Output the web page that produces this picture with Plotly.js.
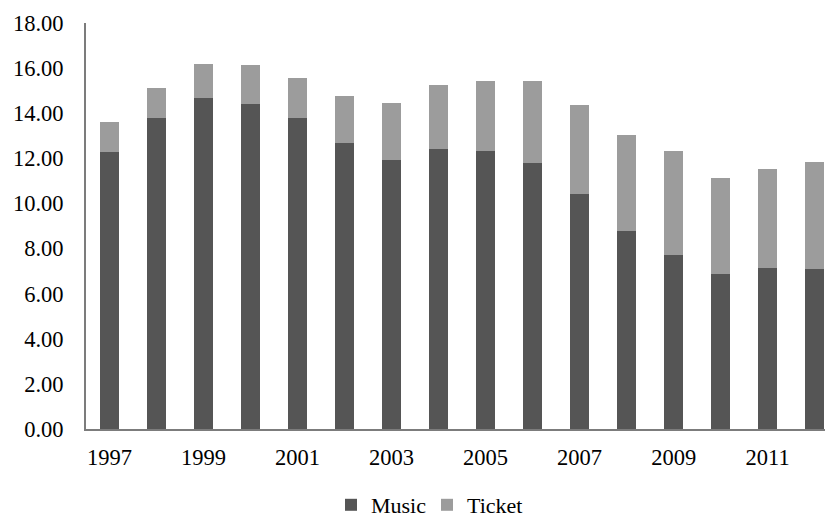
<!DOCTYPE html>
<html>
<head>
<meta charset="utf-8">
<script src="https://cdn.plot.ly/plotly-3.0.1.min.js"></script>
<style>html,body{margin:0;padding:0;background:#fff;}#chart{width:825px;height:519px;}</style>
</head>
<body>
<div id="chart"></div>
<script>
var years = [1997,1998,1999,2000,2001,2002,2003,2004,2005,2006,2007,2008,2009,2010,2011,2012];
var musicValues = [12.29,13.81,14.66,14.42,13.81,12.66,11.92,12.42,12.33,11.81,10.42,8.78,7.71,6.85,7.13,7.09];
var totalValues = [13.59,15.12,16.19,16.13,15.55,14.76,14.44,15.25,15.44,15.44,14.36,13.03,12.33,11.15,11.53,11.84];
var ticketValues = totalValues.map(function(t, i){ return +(t - musicValues[i]).toFixed(2); });
var xTickVals = [1997,1999,2001,2003,2005,2007,2009,2011];
var yTickVals = [0,2,4,6,8,10,12,14,16,18];

var fontFamily = 'Liberation Serif';

var traces = [
  {type:'bar', name:'Music', x:years, y:musicValues, marker:{color:'#555555'}},
  {type:'bar', name:'Ticket', x:years, y:ticketValues, marker:{color:'#9c9c9c'}}
];

var layout = {
  width:825, height:519,
  margin:{l:86, r:0, t:23, b:90, autoexpand:false},
  barmode:'stack',
  bargap:0.6,
  paper_bgcolor:'#ffffff', plot_bgcolor:'#ffffff',
  font:{family:fontFamily, size:22.5, color:'#000000'},
  showlegend:true,
  legend:{orientation:'h', xref:'paper', x:(331-86)/739, xanchor:'left', yref:'paper', y:-0.2389, yanchor:'bottom',
          font:{family:fontFamily, size:22}, entrywidth:51, entrywidthmode:'pixels', traceorder:'normal'},
  xaxis:{
    range:[1996.5, 2012.22], tickvals:xTickVals, ticktext:xTickVals.map(String),
    tickfont:{family:fontFamily, size:22.5}, tickangle:0, automargin:false,
    showline:true, linecolor:'#7c7c7c', linewidth:2, showgrid:false, zeroline:false,
    ticks:'outside', ticklen:7, tickcolor:'rgba(0,0,0,0)', fixedrange:true
  },
  yaxis:{
    range:[0,18], tickvals:yTickVals, ticktext:yTickVals.map(function(v){return v.toFixed(2);}),
    tickfont:{family:fontFamily, size:22.5}, automargin:false,
    showline:true, linecolor:'#7c7c7c', linewidth:2, showgrid:false, zeroline:false,
    ticks:'outside', ticklen:16, tickcolor:'rgba(0,0,0,0)', fixedrange:true
  }
};

Plotly.newPlot('chart', traces, layout, {displayModeBar:false, staticPlot:true});
</script>
</body>
</html>
